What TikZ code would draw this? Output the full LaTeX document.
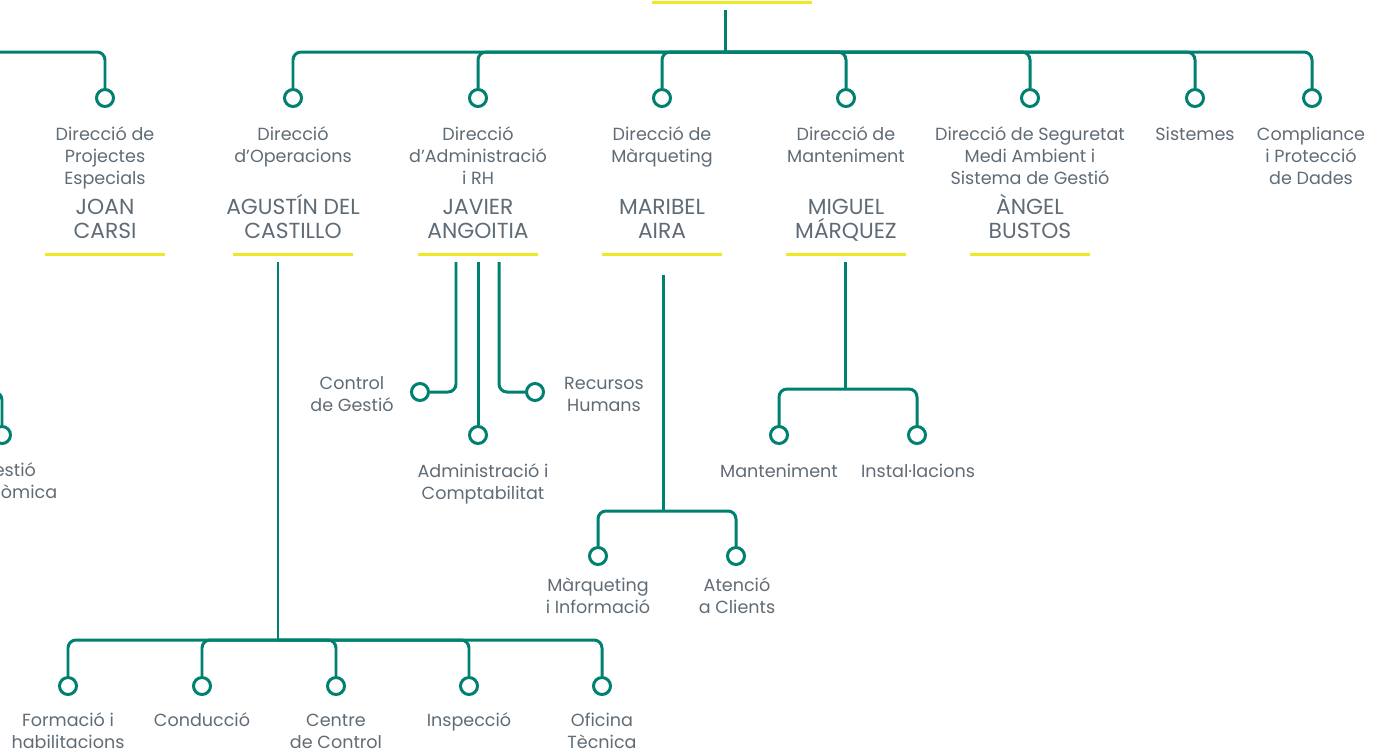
\documentclass[tikz,border=0pt]{standalone}
\usepackage{fontspec}
\setmainfont{Poppins}
\usetikzlibrary{positioning}
\definecolor{orgteal}{HTML}{00806F}
\definecolor{orgyellow}{HTML}{EEE826}
\definecolor{orggray}{HTML}{5F6B75}
\begin{document}
\begin{tikzpicture}[
    x=0.02cm, y=-0.02cm,
    link/.style={draw=orgteal, line width=1.7pt, rounded corners=0.16cm},
    dot/.style={circle, draw=orgteal, line width=1.7pt, fill=white, minimum size=0.34cm, inner sep=0pt},
    dir/.style={anchor=base, align=center, inner sep=0pt, text=orggray, font=\fontsize{10}{12.5}\selectfont},
    unit/.style={dir},
    person/.style={anchor=base, align=center, inner sep=0pt, text=orggray, font=\fontsize{12.4}{13.1}\selectfont},
    bar/.style={draw=orgyellow, line width=1.7pt}
]
\useasboundingbox (0,0) rectangle (1389,752);
\clip (0,0) rectangle (1389,752);

% Direcció general
\draw[bar] (652,2) -- (812,2);
\coordinate (ceo) at (725,10);
\coordinate (hub) at (725,52);
\draw[link] (ceo) -- (hub);

% Direccions
\node[dot] (d-proj) at (105,98) {};
\node[dot] (d-ops) at (293,98) {};
\node[dot] (d-adm) at (478,98) {};
\node[dot] (d-mkt) at (662,98) {};
\node[dot] (d-mnt) at (846,98) {};
\node[dot] (d-seg) at (1030,98) {};
\node[dot] (d-sis) at (1195,98) {};
\node[dot] (d-cmp) at (1312,98) {};

\coordinate (west) at (-20,52);
\draw[link] (west) -| (d-proj);
\foreach \d in {ops,adm,mkt,mnt,seg,sis,cmp}
    \draw[link] (hub) -| (d-\d);

% (base = last line)
\node[dir] (t-proj) at (105,184) {Direcció de\\Projectes\\Especials};
\node[dir] (t-ops) at (293,162) {Direcció\\d’Operacions};
\node[dir] (t-adm) at (478,184) {Direcció\\d’Administració\\i RH};
\node[dir] (t-mkt) at (662,162) {Direcció de\\Màrqueting};
\node[dir] (t-mnt) at (846,162) {Direcció de\\Manteniment};
\node[dir] (t-seg) at (1030,184) {Direcció de Seguretat\\Medi Ambient i\\Sistema de Gestió};
\node[dir] (t-sis) at (1195,140) {Sistemes};
\node[dir] (t-cmp) at (1311,184) {Compliance\\i Protecció\\de Dades};

% Responsables
\node[person] (n-proj) at (105,238) {JOAN\\CARSI};
\node[person] (n-ops) at (293,238) {AGUSTÍN DEL\\CASTILLO};
\node[person] (n-adm) at (478,238) {JAVIER\\ANGOITIA};
\node[person] (n-mkt) at (662,238) {MARIBEL\\AIRA};
\node[person] (n-mnt) at (846,238) {MIGUEL\\MÁRQUEZ};
\node[person] (n-seg) at (1030,238) {ÀNGEL\\BUSTOS};
\foreach \x in {105,293,478,662,846,1030}
    \draw[bar] (\x-60,254) -- (\x+60,254);

% Gestió Econòmica (tall)
\coordinate (gest-in) at (-40,392);
\node[dot] (u-gest) at (2,435) {};
\draw[link] (gest-in) -| (u-gest);
\node[unit] (l-gest) at (8,498) {Gestió\\Econòmica};

% Operacions
\coordinate (ops-top) at (278,262);
\coordinate (ops-bus) at (278,640);
\draw[link] (ops-top) -- (ops-bus);
\foreach \x/\n/\y/\t in {68/form/748/{Formació i\\habilitacions}, 202/cond/726/{Conducció}, 336/cctl/748/{Centre\\de Control}, 469/insp/726/{Inspecció}, 602/otec/748/{Oficina\\Tècnica}}
{
    \node[dot] (u-\n) at (\x,686) {};
    \draw[link] (ops-bus) -| (u-\n);
    \node[unit] (l-\n) at (\x,\y) {\t};
}

% Administració i RH
\coordinate (adm-l) at (456,262);
\coordinate (adm-m) at (478,262);
\coordinate (adm-r) at (499,262);
\node[dot] (u-ctrl) at (420,392) {};
\node[dot] (u-comp) at (478,435) {};
\node[dot] (u-rh) at (535,392) {};
\draw[link] (adm-l) |- (u-ctrl);
\draw[link] (adm-m) -- (u-comp);
\draw[link] (adm-r) |- (u-rh);
\node[unit] (l-ctrl) at (352,411) {Control\\de Gestió};
\node[unit] (l-rh) at (604,411) {Recursos\\Humans};
\node[unit] (l-comp) at (483,499) {Administració i\\Comptabilitat};

% Màrqueting
\coordinate (mkt-top) at (663,275);
\coordinate (mkt-bus) at (663,511);
\draw[link] (mkt-top) -- (mkt-bus);
\node[dot] (u-minf) at (598,556) {};
\node[dot] (u-atc) at (736,556) {};
\draw[link] (mkt-bus) -| (u-minf);
\draw[link] (mkt-bus) -| (u-atc);
\node[unit] (l-minf) at (598,613) {Màrqueting\\i Informació};
\node[unit] (l-atc) at (737,613) {Atenció\\a Clients};

% Manteniment
\coordinate (mnt-top) at (845,262);
\coordinate (mnt-bus) at (845,389);
\draw[link] (mnt-top) -- (mnt-bus);
\node[dot] (u-mant) at (779,435) {};
\node[dot] (u-inst) at (917,435) {};
\draw[link] (mnt-bus) -| (u-mant);
\draw[link] (mnt-bus) -| (u-inst);
\node[unit] (l-mant) at (779,477) {Manteniment};
\node[unit] (l-inst) at (918,477) {Instal·lacions};

\end{tikzpicture}
\end{document}
